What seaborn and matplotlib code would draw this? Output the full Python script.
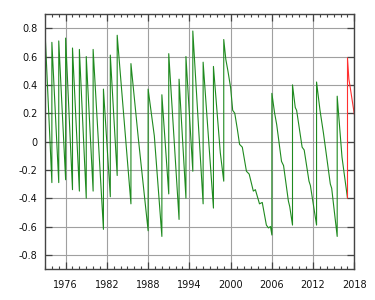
import matplotlib
matplotlib.use("Agg")
import matplotlib.pyplot as plt
import seaborn as sns
import pandas as pd
from matplotlib.ticker import MultipleLocator, FixedLocator

sns.set_theme(style="white")
plt.rcParams['font.family'] = ['DejaVu Sans']
plt.rcParams['axes.unicode_minus'] = False

# DUT1 (UT1 - UTC), seconds; vertical jumps are leap seconds
green_years = [1973.0,
               1974.0, 1974.0, 1975.0, 1975.0, 1976.0, 1976.0, 1977.0, 1977.0,
               1978.0, 1978.0, 1979.0, 1979.0, 1980.0, 1980.0, 1981.5, 1981.5,
               1982.5, 1982.5, 1983.5, 1983.5, 1985.5, 1985.5, 1986.6,
               1988.0, 1988.0, 1988.9, 1990.0, 1990.0, 1991.0, 1991.0,
               1992.5, 1992.5, 1993.5, 1993.5, 1994.5, 1994.5, 1996.0, 1996.0,
               1997.5, 1997.5, 1998.5, 1999.0, 1999.0,
               1999.3, 1999.6, 2000.0, 2000.3, 2000.6, 2001.0, 2001.3, 2001.7,
               2002.3, 2002.7, 2003.3, 2003.6, 2004.2, 2004.6, 2005.2, 2005.5,
               2005.8, 2006.0, 2006.0,
               2006.4, 2006.7, 2007.4, 2007.7, 2008.4, 2008.6, 2009.0, 2009.0,
               2009.4, 2009.6, 2010.4, 2010.7, 2011.4, 2011.6, 2012.5, 2012.5,
               2013.0, 2013.5, 2014.5, 2014.7, 2015.5, 2015.5,
               2016.2, 2016.5, 2017.0]
green_dut1 = [0.78,
              -0.29, 0.70, -0.29, 0.71, -0.27, 0.73, -0.34, 0.66,
              -0.35, 0.65, -0.40, 0.60, -0.35, 0.65, -0.62, 0.37,
              -0.39, 0.61, -0.24, 0.75, -0.44, 0.55, 0.01,
              -0.63, 0.37, 0.04, -0.67, 0.33, -0.37, 0.62,
              -0.55, 0.44, -0.40, 0.60, -0.21, 0.78, -0.44, 0.56,
              -0.47, 0.53, -0.08, -0.28, 0.72,
              0.58, 0.50, 0.38, 0.22, 0.20, 0.08, -0.02, -0.04,
              -0.21, -0.23, -0.35, -0.34, -0.44, -0.43, -0.59, -0.61,
              -0.60, -0.66, 0.34,
              0.20, 0.12, -0.14, -0.17, -0.42, -0.46, -0.59, 0.40,
              0.24, 0.22, -0.04, -0.06, -0.28, -0.31, -0.59, 0.42,
              0.22, 0.06, -0.30, -0.33, -0.67, 0.32,
              -0.11, -0.22, -0.40]

red_years = [2017.0, 2017.0, 2017.2, 2017.4, 2018.0]
red_dut1 = [-0.40, 0.59, 0.44, 0.38, 0.19]

x_ticks = [1976, 1982, 1988, 1994, 2000, 2006, 2012, 2018]
y_ticks = [-0.8, -0.6, -0.4, -0.2, 0, 0.2, 0.4, 0.6, 0.8]
y_labels = ["-0.8", "-0.6", "-0.4", "-0.2", "0", "0.2", "0.4", "0.6", "0.8"]

green_df = pd.DataFrame({"year": green_years, "dut1": green_dut1})
red_df = pd.DataFrame({"year": red_years, "dut1": red_dut1})

fig = plt.figure(figsize=(3.75, 3.0), dpi=100)
ax = fig.add_axes([0.12, 0.1033, 0.825, 0.85])

sns.lineplot(data=green_df, x="year", y="dut1", sort=False, estimator=None,
             color="#1f8a1f", linewidth=0.8, ax=ax)
sns.lineplot(data=red_df, x="year", y="dut1", sort=False, estimator=None,
             color="#ff3030", linewidth=0.8, ax=ax)

ax.set_xlim(1973, 2018)
ax.set_ylim(-0.9, 0.9)
ax.set_xlabel("")
ax.set_ylabel("")
ax.xaxis.set_major_locator(FixedLocator(x_ticks))
ax.xaxis.set_minor_locator(MultipleLocator(1))
ax.set_xticklabels([str(t) for t in x_ticks])
ax.yaxis.set_major_locator(FixedLocator(y_ticks))
ax.set_yticklabels(y_labels)

ax.grid(True, which="major", color="#a0a0a0", linewidth=0.8)
ax.set_axisbelow(True)
for s in ax.spines.values():
    s.set_color("#444444")
    s.set_linewidth(1.0)
    s.set_visible(True)

ax.tick_params(which="major", direction="in", length=5, width=0.9,
               color="#444444", top=True, right=True, bottom=True, left=True,
               labelsize=7, labelcolor="#111111")
ax.tick_params(axis="x", which="major", pad=8)
ax.tick_params(axis="y", which="major", pad=5.5)
ax.tick_params(which="minor", direction="in", length=2.5, width=0.8,
               color="#444444", top=True, bottom=True)

fig.savefig("out.png", dpi=100)
